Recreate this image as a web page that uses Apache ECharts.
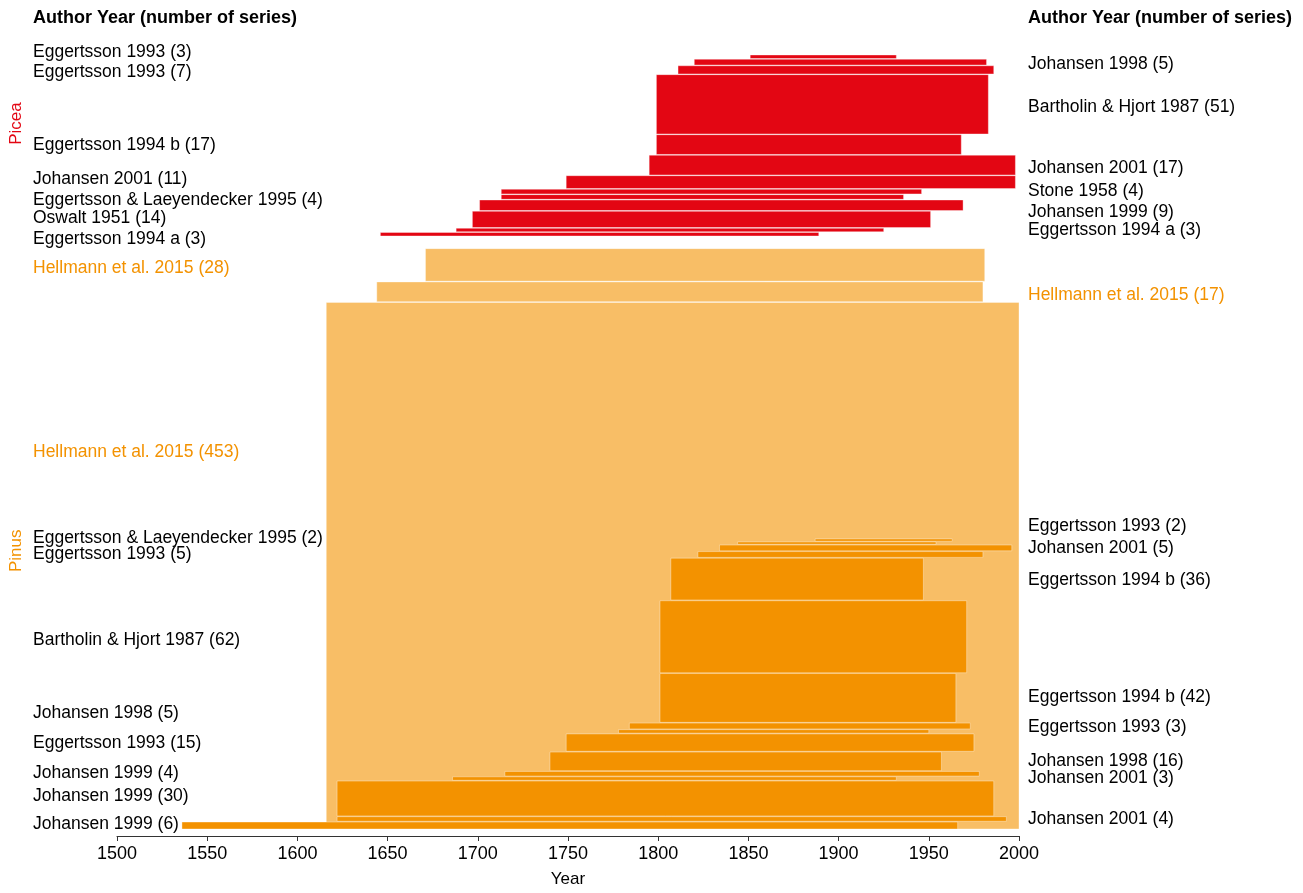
<!DOCTYPE html>
<html>
<head>
<meta charset="utf-8">
<script src="https://cdn.jsdelivr.net/npm/echarts@6/dist/echarts.min.js"></script>
<style>
html,body{margin:0;padding:0;background:#fff;}
#chart{width:1303px;height:893px;}
</style>
</head>
<body>
<div id="chart"></div>
<script>
// ---------------- DATA ----------------
const headerText = "Author Year (number of series)";
const genusNames = ["Picea", "Pinus"];
const yearTicks = [1500, 1550, 1600, 1650, 1700, 1750, 1800, 1850, 1900, 1950, 2000];
const xAxisTitle = "Year";

const piceaAuthors = ["Eggertsson 1993", "Johansen 1998", "Eggertsson 1993", "Bartholin & Hjort 1987",
  "Eggertsson 1994 b", "Johansen 2001", "Johansen 2001", "Stone 1958", "Eggertsson & Laeyendecker 1995",
  "Johansen 1999", "Oswalt 1951", "Eggertsson 1994 a", "Eggertsson 1994 a"];
const piceaSeries = [3, 5, 7, 51, 17, 17, 11, 4, 4, 9, 14, 3, 3];
const piceaFirstYear = [1851, 1820, 1811, 1799, 1799, 1795, 1749, 1713, 1713, 1701, 1697, 1688, 1646];
const piceaLastYear = [1932, 1982, 1986, 1983, 1968, 1998, 1998, 1946, 1936, 1969, 1951, 1925, 1889];

const hellmannAuthors = ["Hellmann et al. 2015", "Hellmann et al. 2015", "Hellmann et al. 2015"];
const hellmannSeries = [28, 17, 453];
const hellmannFirstYear = [1671, 1644, 1616];
const hellmannLastYear = [1981, 1980, 2000];

const pinusAuthors = ["Eggertsson 1993", "Eggertsson & Laeyendecker 1995", "Johansen 2001", "Eggertsson 1993",
  "Eggertsson 1994 b", "Bartholin & Hjort 1987", "Eggertsson 1994 b", "Johansen 1998", "Eggertsson 1993",
  "Eggertsson 1993", "Johansen 1998", "Johansen 1999", "Johansen 2001", "Johansen 1999", "Johansen 2001",
  "Johansen 1999"];
const pinusSeries = [2, 2, 5, 5, 36, 62, 42, 5, 3, 15, 16, 4, 3, 30, 4, 6];
const pinusFirstYear = [1887, 1844, 1834, 1822, 1807, 1801, 1801, 1784, 1778, 1749, 1740, 1715, 1686, 1622, 1622, 1536];
const pinusLastYear = [1963, 1954, 1996, 1980, 1947, 1971, 1965, 1973, 1950, 1975, 1957, 1978, 1932, 1986, 1993, 1966];

// ---------------- LAYOUT / STYLE ----------------
const FONT = '"Liberation Sans", Arial, Helvetica, sans-serif';
const LABEL_FONT = '17.5px ' + FONT;
const RED = '#E30613', ORANGE = '#F39200', LIGHT_ORANGE = '#F8BE66';
const BAR_GAP = 0.64;      // gap between rows (in series units)
const GROUP_GAP = 10.9;    // gap between Picea and Pinus blocks
const AXIS_PAD = 6;        // space between last row and x axis
const LEFT_LABEL_X = 33, RIGHT_LABEL_X = 1028, GENUS_X = 16;
// label offsets (px) from their bar's centre
const piceaNudge = [-5, 2, 2.5, 3, 0.5, 3, -3, -0.5, 3, 6.5, -1, 0, 5];
const hellmannNudge = [3, 3.5, -114];
const pinusNudge = [-14, -4.5, 0.5, 0, 1, 3, -0.5, -12.5, -4, 0.5, 0, -1, 0, -2, 0.5, -1.5];
const genusNudge = [-22, 12];

function stackRows(counts, start, gap) {
  let u = start;
  return counts.map(c => { const r = [u, u + c]; u += c + gap; return r; });
}
const piceaRows = stackRows(piceaSeries, 0, BAR_GAP);
const piceaEnd = piceaRows[piceaRows.length - 1][1];
const hellTop = piceaEnd + GROUP_GAP;
const hellRows = stackRows(hellmannSeries, hellTop, BAR_GAP);
const hellEnd = hellRows[hellRows.length - 1][1];
const pinusSpan = pinusSeries.reduce((a, b) => a + b, 0) + BAR_GAP * (pinusSeries.length - 1);
const pinusRows = stackRows(pinusSeries, hellEnd - pinusSpan, BAR_GAP);
const YMAX = hellEnd + AXIS_PAD;

function makeData(first, last, rows) {
  return first.map((f, i) => [f, last[i], rows[i][0], rows[i][1], i]);
}

function makeRender(cfg) {
  return function (params, api) {
    const i = api.value(4);
    const p0 = api.coord([api.value(0), api.value(2)]);
    const p1 = api.coord([api.value(1), api.value(3)]);
    const cy = (p0[1] + p1[1]) / 2 + cfg.nudge[i];
    const left = ((i + cfg.firstSide) % 2) === 0;
    return {
      type: 'group',
      children: [
        {
          type: 'rect',
          shape: { x: p0[0], y: p0[1], width: p1[0] - p0[0], height: p1[1] - p0[1] },
          style: { fill: cfg.color, stroke: 'rgba(255,255,255,0.45)', lineWidth: 0.8 }
        },
        {
          type: 'text',
          x: left ? LEFT_LABEL_X : RIGHT_LABEL_X,
          y: cy,
          silent: true,
          style: {
            text: cfg.authors[i] + ' (' + cfg.counts[i] + ')',
            fill: cfg.textColor,
            font: LABEL_FONT,
            align: 'left',
            verticalAlign: 'middle'
          }
        }
      ]
    };
  };
}

const genusData = [
  [yearTicks[0], (0 + piceaEnd) / 2, 0],
  [yearTicks[0], (hellTop + hellEnd) / 2, 1]
];
const genusColors = [RED, ORANGE];

const chart = echarts.init(document.getElementById('chart'), null, { renderer: 'canvas' });
chart.setOption({
  animation: false,
  backgroundColor: '#fff',
  grid: { left: 117, right: 284, top: 55, bottom: 51, containLabel: false },
  xAxis: {
    type: 'value',
    position: 'bottom',
    min: yearTicks[0],
    max: yearTicks[yearTicks.length - 1],
    interval: yearTicks[1] - yearTicks[0],
    name: xAxisTitle,
    nameLocation: 'middle',
    nameGap: 35,
    nameTextStyle: { fontSize: 17, color: '#000', fontFamily: FONT },
    axisLine: { show: true, onZero: false, lineStyle: { color: '#333', width: 1 } },
    axisTick: { show: true, length: 5, lineStyle: { color: '#333' } },
    axisLabel: { fontSize: 18, color: '#000', fontFamily: FONT, margin: 9, formatter: v => String(v) },
    splitLine: { show: false }
  },
  yAxis: { type: 'value', min: 0, max: YMAX, inverse: true, show: false },
  graphic: [
    { type: 'text', left: LEFT_LABEL_X, top: 9, style: { text: headerText, fill: '#000', font: 'bold 18px ' + FONT } },
    { type: 'text', left: RIGHT_LABEL_X, top: 9, style: { text: headerText, fill: '#000', font: 'bold 18px ' + FONT } }
  ],
  series: [
    {
      type: 'custom', name: 'Picea', clip: false,
      renderItem: makeRender({ color: RED, textColor: '#000', authors: piceaAuthors, counts: piceaSeries, nudge: piceaNudge, firstSide: 0 }),
      data: makeData(piceaFirstYear, piceaLastYear, piceaRows)
    },
    {
      type: 'custom', name: 'Hellmann', clip: false,
      renderItem: makeRender({ color: LIGHT_ORANGE, textColor: ORANGE, authors: hellmannAuthors, counts: hellmannSeries, nudge: hellmannNudge, firstSide: 0 }),
      data: makeData(hellmannFirstYear, hellmannLastYear, hellRows)
    },
    {
      type: 'custom', name: 'Pinus', clip: false, z: 3,
      renderItem: makeRender({ color: ORANGE, textColor: '#000', authors: pinusAuthors, counts: pinusSeries, nudge: pinusNudge, firstSide: 1 }),
      data: makeData(pinusFirstYear, pinusLastYear, pinusRows)
    },
    {
      type: 'custom', name: 'Genus', clip: false,
      renderItem: function (params, api) {
        const k = api.value(2);
        const p = api.coord([api.value(0), api.value(1)]);
        return {
          type: 'text', x: GENUS_X, y: p[1] + genusNudge[k], rotation: Math.PI / 2, silent: true,
          style: { text: genusNames[k], fill: genusColors[k], font: '17px ' + FONT, align: 'center', verticalAlign: 'middle' }
        };
      },
      data: genusData
    }
  ]
});
</script>
</body>
</html>
